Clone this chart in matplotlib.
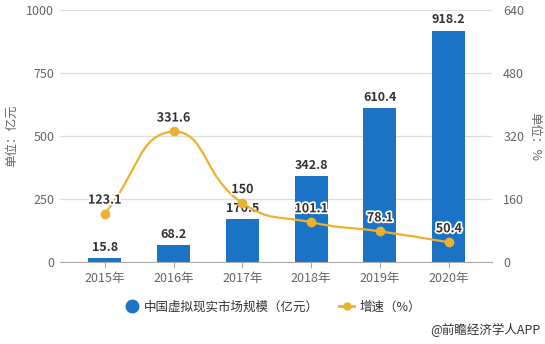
import matplotlib
matplotlib.use('Agg')
import matplotlib.pyplot as plt
from matplotlib.path import Path
from matplotlib.patches import PathPatch
from matplotlib.lines import Line2D
import matplotlib.patheffects as pe
import numpy as np

plt.rcParams['font.family'] = ['Noto Sans CJK SC', 'DejaVu Sans']

years = ['2015年', '2016年', '2017年', '2018年', '2019年', '2020年']
market = [15.8, 68.2, 170.5, 342.8, 610.4, 918.2]
growth = [123.1, 331.6, 150, 101.1, 78.1, 50.4]
left_ticks = [0, 250, 500, 750, 1000]
right_ticks = [0, 160, 320, 480, 640]

BAR = '#1a73c4'
LINE = '#ecb12e'
TXT = '#333333'
TICK = '#666666'

fig = plt.figure(figsize=(5.45, 3.44), dpi=100)
ax = fig.add_axes([0.110, 0.238, 0.793, 0.733])
ax2 = ax.twinx()

x = np.arange(len(years))
ax.bar(x, market, width=0.48, color=BAR, zorder=2)
ax.set_xlim(-0.65, 5.63)
ax.set_ylim(0, 1000)
ax2.set_ylim(0, 640)
ax.set_yticks(left_ticks)
ax2.set_yticks(right_ticks)
ax.set_xticks(x)
ax.set_xticklabels(years)

for a in (ax, ax2):
    for s in ('left', 'right', 'top', 'bottom'):
        a.spines[s].set_visible(False)
ax.spines['bottom'].set_visible(True)
ax.spines['bottom'].set_color('#aaaaaa')
ax.grid(axis='y', color='#dddddd', lw=0.9, zorder=0)
ax.set_axisbelow(True)
ax.tick_params(axis='y', length=0, labelsize=9, labelcolor=TICK, pad=4)
ax2.tick_params(axis='y', length=0, labelsize=9, labelcolor=TICK, pad=8)
ax.tick_params(axis='x', length=4, color='#aaaaaa', labelsize=9, labelcolor=TICK, pad=3)

ax.set_ylabel('单位：亿元', fontsize=9, color=TICK, labelpad=6)
ax2.set_ylabel('单位：%', fontsize=9, color=TICK, rotation=270, labelpad=12)

# bar labels
for xi, v in zip(x, market):
    ax.annotate(f'{v:g}', (xi, v), xytext=(0, 3), textcoords='offset points',
                ha='center', va='bottom', fontsize=9, fontweight='bold', color=TXT, zorder=5)

# smooth line (echarts-like bezier smoothing) in pixel-scaled space
sx, sy = 68.8, 252 / 640
P = np.column_stack([x * sx, np.array(growth) * sy])
smooth = 0.5
n = len(P)
ymin, ymax = P[:, 1].min(), P[:, 1].max()
cps0, cps1 = [], []
for i in range(n):
    cur = P[i]
    prev = P[i - 1] if i > 0 else cur
    nxt = P[i + 1] if i < n - 1 else cur
    v = (nxt - prev) * smooth
    d0 = np.linalg.norm(cur - prev)
    d1 = np.linalg.norm(cur - nxt)
    s = d0 + d1
    if s != 0:
        d0 /= s
        d1 /= s
    c0 = cur - v * d0
    c1 = cur + v * d1
    c0[1] = np.clip(c0[1], ymin, ymax)
    c1[1] = np.clip(c1[1], ymin, ymax)
    cps0.append(c0)
    cps1.append(c1)
verts = [tuple(P[0])]
codes = [Path.MOVETO]
for i in range(n - 1):
    verts += [tuple(cps1[i]), tuple(cps0[i + 1]), tuple(P[i + 1])]
    codes += [Path.CURVE4] * 3
verts = [(vx / sx, vy / sy) for vx, vy in verts]
patch = PathPatch(Path(verts, codes), facecolor='none', edgecolor=LINE, lw=1.6, zorder=3)
ax2.add_patch(patch)
ax2.plot(x, growth, 'o', ms=6, color=LINE, zorder=4)

stroke = [pe.withStroke(linewidth=2.5, foreground='white')]
for xi, v in zip(x, growth):
    t = ax2.annotate(f'{v:g}', (xi, v), xytext=(0, 5), textcoords='offset points',
                     ha='center', va='bottom', fontsize=9, fontweight='bold', color=TXT, zorder=6)
    t.set_path_effects(stroke)

handles = [Line2D([], [], marker='o', color=BAR, linestyle='none', ms=9),
           Line2D([], [], marker='o', color=LINE, lw=2, ms=5)]
fig.legend(handles, ['中国虚拟现实市场规模（亿元）', '增速（%）'], loc='center',
           bbox_to_anchor=(0.5, 0.107), ncol=2, frameon=False, fontsize=9,
           handlelength=1.2, columnspacing=1.6, handletextpad=0.4,
           labelcolor=TXT)

fig.text(0.992, 0.04, '@前瞻经济学人APP', ha='right', va='center', fontsize=9, color=TXT)

fig.savefig('out.png', dpi=100)
